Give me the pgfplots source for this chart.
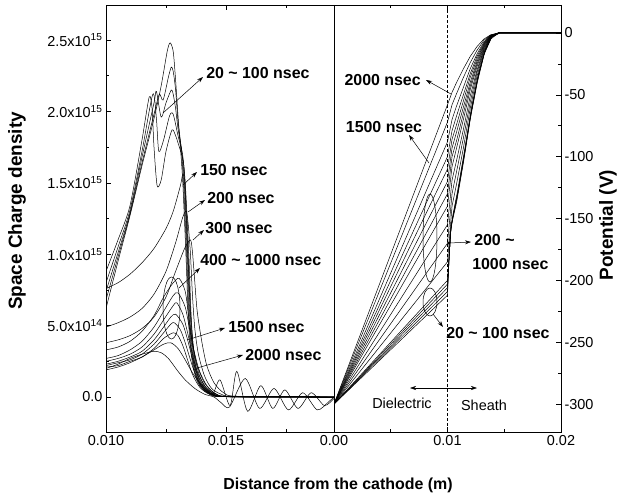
\documentclass[border=0pt]{standalone}
\usepackage{fontspec}
\setmainfont{Liberation Sans}
\usepackage{pgfplots}
\pgfplotsset{compat=1.18}
\usetikzlibrary{arrows.meta}

\pgfplotsset{
  panel/.style={
    scale only axis, height=427bp, anchor=south west,
    tick align=inside, major tick length=5bp, minor tick length=3bp,
    every tick/.style={black, line width=0.6bp},
    axis line style={line width=0.8bp},
    tick label style={font=\fontsize{14.5}{17}\selectfont},
    /pgf/number format/assume math mode=true,
    scaled x ticks=false, scaled y ticks=false,
  },
  rho/.style={black, line width=0.5bp, smooth, tension=0.45},
  pot/.style={black, line width=0.5bp},
}

\begin{document}
\begin{tikzpicture}
\path[use as bounding box] (0bp,0bp) rectangle (622bp,-497bp);

% left panel: space charge density (units of 1e15)
\begin{axis}[panel, at={(106bp,-432bp)}, width=228bp,
  xmin=0.010, xmax=0.0195, ymin=-0.245, ymax=2.745,
  xtick={0.010,0.015}, xticklabels={0.010,0.015},
  minor xtick={0.0125,0.0175}, xtick pos=both,
  ytick={0,0.5,1,1.5,2,2.5},
  yticklabels={0.0,5.0x10\textsuperscript{14},1.0x10\textsuperscript{15},1.5x10\textsuperscript{15},2.0x10\textsuperscript{15},2.5x10\textsuperscript{15}},
  minor ytick={0.25,0.75,1.25,1.75,2.25}, ytick pos=left]
% 20 ~ 100 nsec
\addplot[rho] coordinates {(0.0100,0.62) (0.0105,0.95) (0.0110,1.27) (0.0115,1.62) (0.0120,1.95) (0.0123,2.18) (0.01255,2.42) (0.01267,2.48) (0.0128,2.42) (0.0129,2.22) (0.0130,1.97) (0.0131,1.75) (0.0132,1.5) (0.01333,1.0) (0.01342,0.6) (0.0135,0.38) (0.01362,0.22) (0.0138,0.11) (0.01405,0.05) (0.0144,0.015) (0.0150,0.002) (0.0195,0)};
\addplot[rho] coordinates {(0.0100,0.68) (0.0105,0.98) (0.0110,1.28) (0.0115,1.64) (0.0120,1.98) (0.01222,2.12) (0.01238,2.08) (0.0126,2.24) (0.01272,2.31) (0.0128,2.28) (0.0129,2.15) (0.0130,1.93) (0.01313,1.75) (0.01323,1.5) (0.01336,1.0) (0.01345,0.6) (0.01353,0.38) (0.01365,0.22) (0.01383,0.11) (0.01408,0.05) (0.01443,0.015) (0.0150,0.002) (0.0195,0)};
\addplot[rho] coordinates {(0.0100,0.74) (0.0105,1.01) (0.0110,1.29) (0.0115,1.68) (0.0120,2.06) (0.0121,2.14) (0.0123,1.96) (0.0125,2.06) (0.01272,2.15) (0.0128,2.12) (0.0129,2.02) (0.0130,1.88) (0.01316,1.72) (0.01326,1.5) (0.01339,1.0) (0.01348,0.6) (0.01356,0.38) (0.01368,0.22) (0.01386,0.11) (0.01411,0.05) (0.01446,0.015) (0.0151,0.002) (0.0195,0)};
\addplot[rho] coordinates {(0.0100,0.80) (0.0105,1.05) (0.0110,1.31) (0.0115,1.72) (0.01195,2.12) (0.0121,1.95) (0.0122,1.72) (0.0124,1.8) (0.01265,1.97) (0.0128,1.98) (0.0130,1.83) (0.01319,1.7) (0.01329,1.5) (0.01342,1.0) (0.01351,0.6) (0.01359,0.38) (0.01371,0.22) (0.01389,0.11) (0.01414,0.05) (0.01449,0.015) (0.0151,0.002) (0.0195,0)};
\addplot[rho] coordinates {(0.0100,0.88) (0.0105,1.1) (0.0110,1.34) (0.0115,1.8) (0.0118,2.1) (0.01192,2.02) (0.0120,1.75) (0.01213,1.48) (0.0123,1.52) (0.0125,1.72) (0.01275,1.87) (0.0129,1.83) (0.0130,1.78) (0.01322,1.65) (0.01332,1.45) (0.01345,1.0) (0.01354,0.6) (0.01362,0.38) (0.01374,0.22) (0.01392,0.11) (0.01417,0.05) (0.01452,0.015) (0.0152,0.002) (0.0195,0)};
% 150 nsec
\addplot[rho] coordinates {(0.0100,0.76) (0.0105,0.8) (0.0110,0.86) (0.0115,0.94) (0.0120,1.04) (0.0125,1.18) (0.0128,1.3) (0.0131,1.48) (0.0132,1.56) (0.01328,1.5) (0.01336,1.2) (0.01346,0.8) (0.01356,0.5) (0.01368,0.3) (0.0139,0.15) (0.0142,0.06) (0.0146,0.02) (0.0152,0.003) (0.0195,0)};
% 200 nsec
\addplot[rho] coordinates {(0.0100,0.49) (0.0105,0.52) (0.0110,0.56) (0.0115,0.62) (0.0120,0.72) (0.0125,0.88) (0.0129,1.08) (0.0132,1.26) (0.01335,1.3) (0.01343,1.2) (0.01352,1.0) (0.0136,0.72) (0.0137,0.48) (0.01385,0.3) (0.0141,0.15) (0.0144,0.06) (0.0148,0.02) (0.0154,0.003) (0.0195,0)};
% 300 nsec
\addplot[rho] coordinates {(0.0100,0.38) (0.0105,0.4) (0.0110,0.43) (0.0115,0.48) (0.0120,0.56) (0.0125,0.7) (0.0129,0.88) (0.0133,1.05) (0.01352,1.1) (0.0136,1.02) (0.01368,0.85) (0.0138,0.6) (0.0140,0.38) (0.0142,0.22) (0.0145,0.1) (0.0149,0.03) (0.0155,0.005) (0.0195,0)};
% 400 ~ 1000 nsec
\addplot[rho] coordinates {(0.0100,0.33) (0.0105,0.35) (0.0110,0.39) (0.0115,0.46) (0.0120,0.57) (0.0124,0.7) (0.0128,0.8) (0.01305,0.83) (0.0133,0.74) (0.01345,0.56) (0.0136,0.38) (0.0138,0.22) (0.0141,0.1) (0.0145,0.03) (0.0151,0.004) (0.0195,0)};
\addplot[rho] coordinates {(0.0100,0.27) (0.0105,0.29) (0.0110,0.33) (0.0115,0.39) (0.0120,0.49) (0.0124,0.6) (0.0128,0.71) (0.0130,0.73) (0.0133,0.63) (0.0135,0.46) (0.0137,0.3) (0.0139,0.18) (0.0142,0.08) (0.0146,0.02) (0.0152,0.003) (0.0195,0)};
\addplot[rho] coordinates {(0.0100,0.25) (0.0105,0.27) (0.0110,0.3) (0.0115,0.35) (0.0120,0.44) (0.0124,0.54) (0.0128,0.64) (0.01295,0.66) (0.0132,0.58) (0.0134,0.45) (0.0136,0.3) (0.0138,0.18) (0.0141,0.08) (0.0145,0.02) (0.0151,0.003) (0.0195,0)};
\addplot[rho] coordinates {(0.0100,0.23) (0.0105,0.25) (0.0110,0.28) (0.0115,0.32) (0.0120,0.4) (0.0124,0.49) (0.0127,0.56) (0.0129,0.58) (0.0132,0.51) (0.0134,0.4) (0.0136,0.27) (0.0138,0.16) (0.0141,0.07) (0.0145,0.02) (0.0151,0.003) (0.0195,0)};
\addplot[rho] coordinates {(0.0100,0.22) (0.0105,0.24) (0.0110,0.26) (0.0115,0.3) (0.0120,0.37) (0.0124,0.45) (0.0127,0.51) (0.01285,0.52) (0.0131,0.47) (0.0133,0.38) (0.0135,0.27) (0.0137,0.17) (0.0140,0.07) (0.0144,0.02) (0.0150,0.003) (0.0195,0)};
\addplot[rho] coordinates {(0.0100,0.21) (0.0105,0.22) (0.0110,0.25) (0.0115,0.28) (0.0120,0.34) (0.0124,0.41) (0.0128,0.45) (0.0130,0.43) (0.0132,0.36) (0.0134,0.26) (0.0136,0.16) (0.0139,0.07) (0.0143,0.02) (0.0149,0.003) (0.0195,0)};
% 1500 nsec
\addplot[rho] coordinates {(0.0100,0.19) (0.0105,0.21) (0.0110,0.24) (0.0115,0.28) (0.0120,0.33) (0.0124,0.37) (0.0127,0.38) (0.0130,0.34) (0.0133,0.26) (0.0136,0.17) (0.0139,0.1) (0.01415,0.06) (0.01445,0.02) (0.01475,0.12) (0.01517,-0.06) (0.01545,0.18) (0.0159,-0.1) (0.01645,0.08) (0.01695,-0.08) (0.01745,0.05) (0.0180,-0.08) (0.01855,0.03) (0.0191,-0.06) (0.0195,-0.01)};
% 2000 nsec
\addplot[rho] coordinates {(0.0100,0.2) (0.0105,0.23) (0.0110,0.27) (0.0115,0.3) (0.0120,0.32) (0.0123,0.31) (0.0126,0.27) (0.0130,0.18) (0.0133,0.12) (0.0137,0.06) (0.0141,0.02) (0.0145,0.0) (0.0148,-0.04) (0.01515,-0.07) (0.0158,0.13) (0.0164,-0.08) (0.0170,0.06) (0.0176,-0.09) (0.0182,0.03) (0.0188,-0.09) (0.0193,-0.03) (0.0195,0.0)};
\end{axis}

% right panel: potential
\begin{axis}[panel, at={(334bp,-432bp)}, width=227bp,
  xmin=0, xmax=0.02, ymin=-322.6, ymax=22.6,
  xtick={0,0.01,0.02}, xticklabels={0.00,0.01,0.02},
  minor xtick={0.005,0.015}, xtick pos=both,
  ytick={-300,-250,-200,-150,-100,-50,0},
  yticklabels={-300,-250,-200,-150,-100,-50,0},
  minor ytick={-275,-225,-175,-125,-75,-25},
  ytick pos=right, yticklabel pos=right]
% 20 ~ 100 nsec
\addplot[pot] coordinates {(0,-300) (0.0100,-212) (0.01012,-186) (0.01025,-163) (0.0104,-153) (0.0108,-137) (0.0114,-105) (0.0120,-70) (0.0126,-41) (0.0132,-18) (0.0138,-5) (0.0145,0) (0.02,0)};
\addplot[pot] coordinates {(0,-300) (0.0100,-209) (0.01013,-184) (0.01027,-161) (0.0104,-152) (0.0108,-135) (0.0114,-103) (0.0120,-68) (0.0126,-39) (0.0132,-17) (0.0138,-4) (0.0145,0) (0.02,0)};
\addplot[pot] coordinates {(0,-300) (0.0100,-206) (0.01014,-182) (0.01029,-159) (0.0105,-148) (0.0109,-130) (0.0115,-98) (0.0121,-64) (0.0127,-36) (0.0133,-15) (0.0139,-3.5) (0.0146,0) (0.02,0)};
\addplot[pot] coordinates {(0,-300) (0.0100,-203) (0.01015,-180) (0.0103,-158) (0.0105,-147) (0.0109,-129) (0.0115,-97) (0.0121,-63) (0.0127,-35) (0.0133,-14) (0.0139,-3) (0.0146,0) (0.02,0)};
\addplot[pot] coordinates {(0,-300) (0.0100,-200) (0.01016,-178) (0.01032,-156) (0.0105,-146) (0.0109,-127) (0.0115,-95) (0.0121,-61) (0.0127,-34) (0.0133,-14) (0.0139,-3) (0.0146,0) (0.02,0)};
% 150 ~ 2000 nsec
\addplot[pot] coordinates {(0,-300) (0.0100,-185) (0.0104,-140) (0.0108,-122) (0.0114,-93) (0.0120,-61) (0.0126,-35) (0.0132,-15) (0.0138,-3.7) (0.0145,0) (0.02,0)};
\addplot[pot] coordinates {(0,-300) (0.0100,-170) (0.0104,-130) (0.0108,-112) (0.0114,-85) (0.0120,-56) (0.0126,-32) (0.0132,-14) (0.0138,-3.4) (0.0145,0) (0.02,0)};
\addplot[pot] coordinates {(0,-300) (0.0100,-155) (0.0104,-119) (0.0108,-103) (0.0114,-78) (0.0120,-51) (0.0126,-30) (0.0132,-13) (0.0138,-3.2) (0.0145,0) (0.02,0)};
\addplot[pot] coordinates {(0,-300) (0.0100,-140) (0.0104,-108) (0.0108,-93) (0.0114,-70) (0.0120,-46) (0.0126,-27) (0.0132,-12) (0.0138,-2.9) (0.0145,0) (0.02,0)};
\addplot[pot] coordinates {(0,-300) (0.0100,-130) (0.0104,-100) (0.0108,-87) (0.0114,-65) (0.0120,-43) (0.0126,-25) (0.0132,-11) (0.0138,-2.7) (0.0145,0) (0.02,0)};
\addplot[pot] coordinates {(0,-300) (0.0100,-120) (0.0104,-93) (0.0108,-80) (0.0114,-60) (0.0120,-40) (0.0126,-23) (0.0132,-10) (0.0138,-2.6) (0.0145,0) (0.02,0)};
\addplot[pot] coordinates {(0,-300) (0.0100,-110) (0.0104,-86) (0.0108,-74) (0.0114,-55) (0.0120,-36) (0.0126,-21) (0.0132,-9.2) (0.0138,-2.4) (0.0145,0) (0.02,0)};
\addplot[pot] coordinates {(0,-300) (0.0100,-100) (0.0104,-79) (0.0108,-67) (0.0114,-50) (0.0120,-33) (0.0126,-19) (0.0132,-8.4) (0.0138,-2.2) (0.0145,0) (0.02,0)};
\addplot[pot] coordinates {(0,-300) (0.0100,-88) (0.0104,-70) (0.0108,-59) (0.0114,-44) (0.0120,-29) (0.0126,-17) (0.0132,-7.4) (0.0138,-2) (0.0145,0) (0.02,0)};
\addplot[pot] coordinates {(0,-300) (0.0100,-72) (0.0104,-58) (0.0108,-49) (0.0114,-36) (0.0120,-24) (0.0126,-14) (0.0132,-6) (0.0138,-1.7) (0.0145,0) (0.02,0)};
\addplot[pot] coordinates {(0,-300) (0.0100,-58) (0.0104,-48) (0.0108,-40) (0.0114,-29) (0.0120,-19) (0.0126,-11) (0.0132,-5) (0.0138,-1.5) (0.0145,0) (0.02,0)};
\end{axis}

% annotations, in pixel coordinates of the reference (y downwards)
\begin{scope}[x=1bp, y=-1bp, line width=0.5bp,
  >={Stealth[length=6bp,width=4bp]},
  lab/.style={font=\fontsize{16}{19}\selectfont\bfseries, inner sep=0pt},
  txt/.style={font=\fontsize{14.5}{17}\selectfont, inner sep=0pt}]
\draw[densely dashed] (447.5,5) -- (447.5,432);
% left panel
\draw[->] (163,113) -- (203,77);
\node[lab, anchor=west] at (206,73) {20 \textasciitilde{} 100 nsec};
\draw[->] (183,185) -- (197,172);
\node[lab, anchor=west] at (200,170) {150 nsec};
\draw[->] (188,212) -- (205,200);
\node[lab, anchor=west] at (207,198) {200 nsec};
\draw[->] (193,240) -- (204,230);
\node[lab, anchor=west] at (205,228) {300 nsec};
\draw (171.5,308) ellipse [x radius=8.5, y radius=31];
\draw[->] (179,288) -- (200,268);
\node[lab, anchor=west] at (200,260) {400 \textasciitilde{} 1000 nsec};
\draw[->] (187,340) -- (225,328);
\node[lab, anchor=west] at (228,327) {1500 nsec};
\draw[->] (197,368) -- (243,355);
\node[lab, anchor=west] at (245,355) {2000 nsec};
% right panel
\draw[->] (451,94) -- (426,80);
\node[lab, anchor=east] at (421,80) {2000 nsec};
\draw[->] (429,163) -- (409,135);
\node[lab] at (384,127) {1500 nsec};
\draw (430,238) ellipse [x radius=7, y radius=44];
\fill (449,243) circle (1.6);
\draw[->] (449,243) -- (471,242);
\node[lab, anchor=west] at (474,240) {200 \textasciitilde};
\node[lab, anchor=west] at (472,264) {1000 nsec};
\draw (430,302) ellipse [x radius=7, y radius=14];
\draw[->] (433,314) -- (443,327);
\node[lab, anchor=west] at (446,333) {20 \textasciitilde{} 100 nsec};
\draw[<->] (410,388) -- (477,388);
\node[txt] at (402,403) {Dielectric};
\node[txt] at (484,405) {Sheath};
% axis titles
\node[lab] at (338,485) {Distance from the cathode (m)};
\node[lab, rotate=90, font=\fontsize{19}{22}\selectfont\bfseries] at (17,211) {Space Charge density};
\node[lab, rotate=90, font=\fontsize{19}{22}\selectfont\bfseries] at (608,225) {Potential (V)};
\end{scope}
\end{tikzpicture}
\end{document}
